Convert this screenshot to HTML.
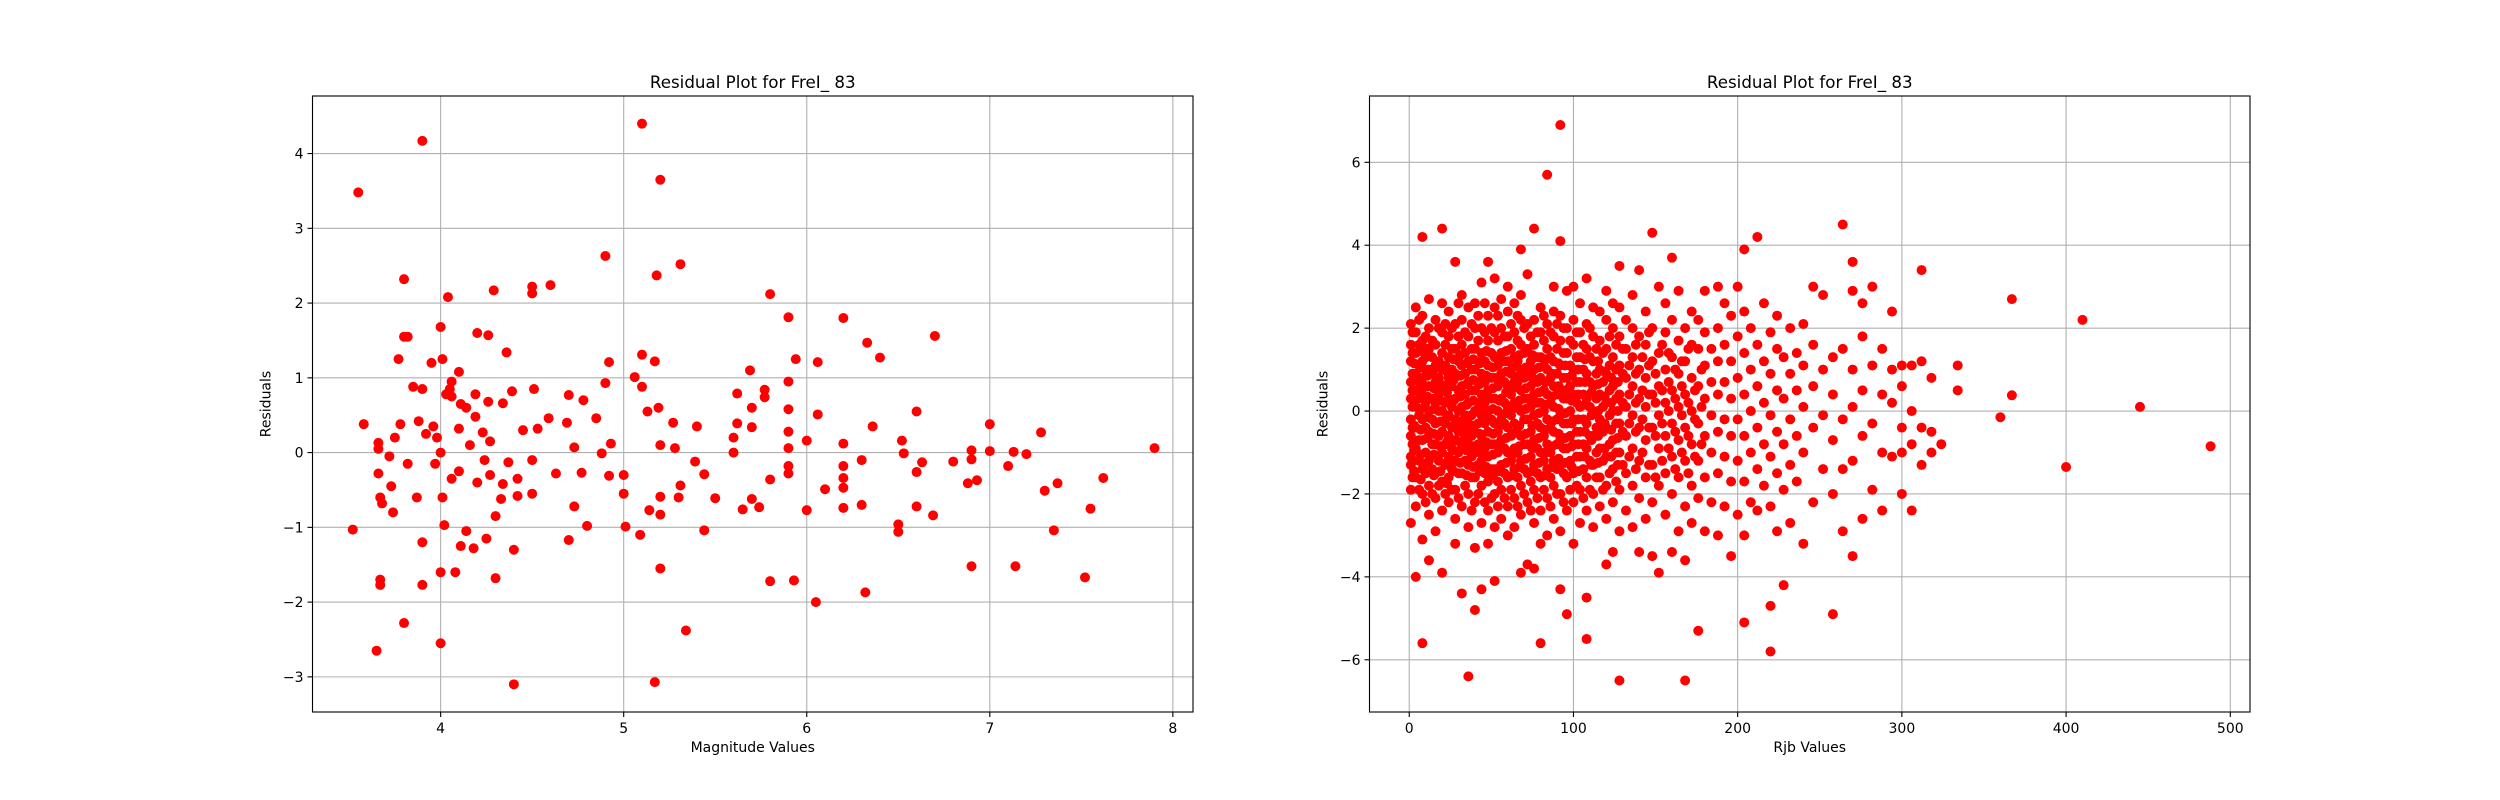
<!DOCTYPE html>
<html><head><meta charset="utf-8"><style>
html,body{margin:0;padding:0;background:#fff;}
svg{display:block;font-family:"DejaVu Sans","Liberation Sans",sans-serif;}
</style></head><body>
<svg id="fig" width="2500" height="800" viewBox="0 0 2500 800" xmlns="http://www.w3.org/2000/svg"></svg>
<script>
// ---- Left chart data: [magnitude, residual]
const leftPoints = [[3.55,3.48],[3.52,-1.03],[3.58,0.38],[3.9,4.17],[3.65,-2.65],[3.67,-1.7],[3.67,-1.77],[3.66,0.13],[3.66,0.05],[3.66,-0.28],[3.67,-0.6],[3.68,-0.68],[3.72,-0.05],[3.73,-0.45],[3.74,-0.8],[3.75,0.2],[3.77,1.25],[3.78,0.38],[3.8,1.55],[3.82,1.55],[3.8,2.32],[3.8,-2.28],[3.82,-0.15],[3.85,0.88],[3.87,-0.6],[3.88,0.42],[3.9,0.85],[3.9,-1.77],[3.9,-1.2],[3.92,0.25],[3.95,1.2],[3.96,0.35],[3.97,-0.15],[3.98,0.2],[4.0,1.68],[4.01,1.25],[4.01,-0.6],[4.0,-2.55],[4.0,-1.6],[4.0,0.0],[4.02,-0.97],[4.03,0.78],[4.04,2.08],[4.05,0.85],[4.06,-0.35],[4.06,0.75],[4.08,-1.6],[4.1,1.08],[4.06,0.95],[4.1,-0.25],[4.1,0.32],[4.11,0.65],[4.11,-1.25],[4.14,-1.05],[4.14,0.6],[4.19,0.78],[4.19,0.48],[4.16,0.1],[4.18,-1.28],[4.2,-0.4],[4.2,1.6],[4.23,0.27],[4.24,-0.1],[4.26,1.57],[4.3,-0.85],[4.26,0.68],[4.25,-1.15],[4.29,2.17],[4.27,-0.3],[4.27,0.15],[4.3,-1.68],[4.33,-0.62],[4.34,-0.42],[4.34,0.66],[4.36,1.34],[4.37,-0.13],[4.39,0.82],[4.4,-3.1],[4.4,-1.3],[4.42,-0.35],[4.42,-0.58],[4.45,0.3],[4.5,-0.55],[4.5,2.22],[4.5,2.13],[4.51,0.85],[4.5,-0.1],[4.53,0.32],[4.6,2.24],[4.59,0.46],[4.63,-0.28],[4.7,0.77],[4.69,0.4],[4.7,-1.17],[4.73,-0.72],[4.73,0.07],[4.77,-0.27],[4.8,-0.98],[4.78,0.7],[4.85,0.46],[4.9,2.63],[4.92,-0.31],[4.9,0.93],[4.92,1.21],[4.93,0.12],[4.88,-0.01],[5.0,-0.55],[5.0,-0.3],[5.01,-0.99],[5.06,1.01],[5.09,-1.1],[5.1,1.31],[5.1,4.4],[5.1,0.88],[5.13,0.55],[5.14,-0.77],[5.17,-3.07],[5.17,1.22],[5.18,2.37],[5.19,0.6],[5.2,3.65],[5.2,0.1],[5.2,-1.55],[5.2,-0.83],[5.2,-0.59],[5.27,0.4],[5.3,-0.6],[5.28,0.06],[5.31,2.52],[5.31,-0.44],[5.34,-2.38],[5.39,-0.12],[5.4,0.35],[5.44,-1.04],[5.44,-0.29],[5.5,-0.61],[5.6,0.0],[5.6,0.2],[5.62,0.39],[5.62,0.79],[5.7,-0.62],[5.69,1.1],[5.7,0.6],[5.7,0.34],[5.74,-0.73],[5.65,-0.76],[5.77,0.84],[5.77,0.74],[5.8,2.12],[5.8,-1.72],[5.8,-0.36],[5.9,0.28],[5.9,1.81],[5.9,0.95],[5.9,0.58],[5.9,0.06],[5.9,-0.18],[5.93,-1.71],[5.94,1.25],[5.9,-0.28],[6.0,-0.77],[6.0,0.16],[6.05,-2.0],[6.06,1.21],[6.06,0.51],[6.1,-0.49],[6.2,1.8],[6.2,-0.18],[6.2,-0.34],[6.2,-0.74],[6.2,0.12],[6.2,-0.47],[6.3,-0.7],[6.3,-0.1],[6.33,1.47],[6.32,-1.87],[6.36,0.35],[6.4,1.27],[6.5,-1.06],[6.5,-0.96],[6.52,0.16],[6.53,-0.01],[6.6,0.55],[6.6,-0.26],[6.6,-0.72],[6.63,-0.13],[6.7,1.56],[6.69,-0.84],[6.8,-0.12],[6.9,0.03],[6.88,-0.41],[6.9,-1.52],[6.9,-0.09],[6.93,-0.37],[7.0,0.38],[7.0,0.02],[7.1,-0.18],[7.13,0.01],[7.14,-1.52],[7.2,-0.02],[7.28,0.27],[7.3,-0.51],[7.35,-1.04],[7.37,-0.41],[7.52,-1.67],[7.55,-0.75],[7.62,-0.34],[7.9,0.06]];
const leftXTicks = [4,5,6,7,8];
const leftYTicks = [-3,-2,-1,0,1,2,3,4];

// ---- Right chart data: columns of [rjb, [residuals...]]
const rightColumns = [
[1,[-2.7,-1.9,-1.3,-1.1,-0.6,-0.2,0.3,0.7,1.2,1.6,2.1]],[2,[-1.6,-0.8,-0.4,0.1,0.9,1.4,1.9,-1.2,0.5]],
[4,[-4.0,-2.3,-1.6,-0.9,-0.4,0.1,0.5,0.9,1.4,1.9,2.5]],[6,[-1.9,-1.2,-0.7,-0.1,0.3,0.7,1.1,1.6,2.2]],
[8,[-5.6,-3.1,-2.0,-1.4,-0.7,-0.2,0.4,0.8,1.2,1.7,2.3,4.2]],[10,[-2.2,-1.5,-1.0,-0.4,0.2,0.6,1.0,1.3,1.8]],
[12,[-3.6,-2.5,-1.8,-1.2,-0.5,0.0,0.6,1.0,1.5,2.0,2.7]],[14,[-2.0,-1.4,-0.8,-0.2,0.3,0.9,1.3,1.7]],
[16,[-2.9,-2.1,-1.5,-0.8,-0.3,0.2,0.7,1.1,1.6,2.2]],[18,[-1.8,-1.2,-0.6,0.0,0.4,0.8,1.2,2.0]],
[20,[-3.9,-2.4,-1.7,-1.0,-0.5,0.0,0.5,1.0,1.4,1.9,2.6,4.4]],[22,[-2.0,-1.3,-0.8,-0.3,0.2,0.6,1.1,1.6,2.1]],
[24,[-2.2,-1.6,-1.1,-0.6,-0.1,0.3,0.8,1.3,1.8,2.4]],[26,[-1.9,-1.4,-0.9,-0.4,0.1,0.6,1.0,1.5,2.0]],
[28,[-3.2,-2.6,-1.9,-1.2,-0.7,-0.2,0.3,0.9,1.5,2.1,3.6]],[30,[-2.1,-1.5,-1.0,-0.5,0.0,0.5,1.2,1.8,2.6]],
[32,[-4.4,-2.3,-1.5,-0.9,-0.4,0.1,0.6,1.1,1.6,2.2,2.8]],[34,[-1.8,-1.2,-0.6,-0.1,0.4,0.9,1.4,1.9]],
[36,[-6.4,-2.8,-2.0,-1.3,-0.8,-0.3,0.2,0.7,1.2,1.8,2.5]],[38,[-2.4,-1.6,-1.1,-0.6,-0.1,0.5,1.0,1.5,2.1]],
[40,[-4.8,-3.3,-2.2,-1.6,-1.0,-0.5,0.0,0.5,1.0,1.5,2.0,2.6]],[42,[-2.0,-1.3,-0.8,-0.3,0.2,0.7,1.2,1.7,2.3]],
[44,[-4.3,-2.7,-1.8,-1.2,-0.6,-0.1,0.4,0.9,1.4,2.0,3.1]],[46,[-2.2,-1.5,-0.9,-0.3,0.2,0.7,1.2,1.9,2.6]],
[48,[-3.2,-2.4,-1.7,-1.1,-0.5,0.0,0.5,1.1,1.7,2.3,3.6]],[50,[-2.1,-1.4,-0.8,-0.2,0.3,0.8,1.4,2.0]],
[52,[-4.1,-2.8,-2.0,-1.4,-0.8,-0.3,0.3,0.8,1.3,1.9,2.5,3.2]],[54,[-2.3,-1.7,-1.0,-0.5,0.0,0.6,1.1,1.7,2.3]],
[56,[-2.6,-1.9,-1.3,-0.7,-0.2,0.3,0.9,1.4,2.0,2.7]],[58,[-2.1,-1.5,-0.9,-0.3,0.2,0.7,1.2,1.8]],
[60,[-3.0,-2.3,-1.6,-1.0,-0.4,0.1,0.6,1.2,1.8,2.4,3.0]],[62,[-1.9,-1.2,-0.6,-0.1,0.4,0.9,1.5,2.1]],
[64,[-2.8,-2.1,-1.4,-0.9,-0.3,0.2,0.7,1.3,1.9,2.6]],[66,[-2.3,-1.6,-1.0,-0.4,0.1,0.7,1.2,1.7,2.3]],
[68,[-3.9,-2.5,-1.8,-1.2,-0.6,0.0,0.5,1.0,1.6,2.2,2.8,3.9]],[70,[-2.0,-1.4,-0.8,-0.2,0.3,0.8,1.4,2.0]],
[72,[-3.7,-2.2,-1.5,-0.8,-0.2,0.3,0.9,1.5,2.1,3.3]],[74,[-2.4,-1.7,-1.1,-0.5,0.1,0.6,1.2,1.8]],
[76,[-3.8,-2.7,-1.9,-1.3,-0.7,-0.1,0.4,1.0,1.6,2.2,4.4]],[78,[-2.1,-1.5,-0.9,-0.3,0.2,0.7,1.3,1.9]],
[80,[-5.6,-3.2,-2.4,-1.6,-1.0,-0.4,0.2,0.8,1.3,1.9,2.5]],[82,[-1.9,-1.2,-0.6,0.0,0.5,1.1,1.7,2.3]],
[84,[-3.0,-2.1,-1.4,-0.8,-0.2,0.4,1.0,1.5,2.1,5.7]],[86,[-2.3,-1.6,-1.0,-0.4,0.2,0.8,1.3,1.9]],
[88,[-2.6,-1.8,-1.2,-0.5,0.1,0.6,1.2,1.8,2.4,3.0]],[90,[-2.0,-1.4,-0.8,-0.2,0.4,0.9,1.5,2.1]],
[92,[-4.3,-2.9,-2.0,-1.3,-0.7,-0.1,0.5,1.1,1.7,2.3,6.9,4.1]],[94,[-2.2,-1.5,-0.9,-0.3,0.3,0.8,1.4,2.0]],
[96,[-4.9,-2.4,-1.6,-0.9,-0.3,0.3,0.8,1.4,2.0,2.9]],[98,[-1.9,-1.2,-0.6,0.0,0.6,1.1,1.7]],
[100,[-3.2,-2.2,-1.5,-0.8,-0.2,0.4,1.0,1.6,2.2,3.0]],[102,[-1.8,-1.1,-0.5,0.2,0.7,1.3,1.9]],
[104,[-2.7,-1.9,-1.1,-0.5,0.1,0.7,1.3,1.9,2.6]],[106,[-2.1,-1.4,-0.8,-0.2,0.4,1.0,1.6]],
[108,[-5.5,-4.5,-2.4,-1.6,-0.9,-0.3,0.3,0.9,1.5,2.1,3.2]],[110,[-1.9,-1.2,-0.6,0.1,0.7,1.3,2.0]],
[112,[-2.8,-2.0,-1.3,-0.6,0.0,0.6,1.2,1.8,2.5]],[114,[-1.6,-1.0,-0.4,0.3,0.9,1.5]],
[116,[-2.3,-1.6,-0.9,-0.2,0.4,1.0,1.7,2.4]],[118,[-1.9,-1.2,-0.5,0.1,0.7,1.4]],
[120,[-3.7,-2.6,-1.8,-1.1,-0.4,0.2,0.9,1.5,2.2,2.9]],[122,[-1.5,-0.8,-0.1,0.5,1.1,1.8]],
[124,[-3.4,-2.2,-1.4,-0.7,0.0,0.6,1.3,2.0,2.6]],[126,[-1.7,-1.0,-0.3,0.3,1.0,1.6]],
[128,[-6.5,-2.9,-1.9,-1.0,-0.3,0.4,1.1,1.8,2.5,3.5]],[130,[-1.3,-0.5,0.2,0.9,1.5]],
[132,[-2.4,-1.5,-0.6,0.1,0.8,1.5,2.2]],[134,[-1.1,-0.3,0.4,1.1]],
[136,[-2.8,-1.8,-0.9,-0.1,0.6,1.3,2.0,2.8]],[138,[-1.4,-0.5,0.2,0.9,1.6]],
[140,[-3.4,-2.1,-1.2,-0.4,0.3,1.0,1.8,3.4]],[142,[-1.0,-0.2,0.5,1.3]],
[144,[-2.6,-1.6,-0.7,0.1,0.8,1.6,2.4]],[146,[-1.3,-0.4,0.4,1.1,1.9]],
[148,[-3.5,-2.2,-1.3,-0.4,0.4,1.2,2.0,4.3]],[150,[-1.6,-0.6,0.2,0.9]],
[152,[-3.9,-1.8,-0.9,-0.1,0.6,1.4,3.0]],[154,[-1.2,-0.3,0.5,1.6]],
[156,[-2.5,-1.5,-0.6,0.2,1.0,1.9,2.6]],[158,[-0.9,0.0,0.7,1.4]],
[160,[-3.4,-2.0,-1.1,-0.3,0.5,1.3,2.2,3.7]],[162,[-1.4,-0.5,0.3,1.0]],
[164,[-2.9,-1.6,-0.7,0.1,0.9,1.7,2.9]],[166,[-1.0,-0.1,0.6,1.2]],
[168,[-6.5,-3.6,-2.3,-1.2,-0.4,0.4,1.2,2.0]],[170,[-1.5,-0.6,0.2,1.5]],
[172,[-2.7,-1.8,-0.8,0.0,0.8,1.6,2.4]],[174,[-1.1,-0.2,0.5]],
[176,[-5.3,-2.1,-1.2,-0.3,0.6,1.5,2.2]],[178,[-0.8,0.1,1.0]],
[180,[-2.9,-1.6,-0.6,0.3,1.1,1.9,2.9]],[184,[-2.2,-1.0,-0.1,0.7,1.5]],
[188,[-3.0,-1.5,-0.5,0.4,1.2,2.0,3.0]],[192,[-2.3,-1.1,-0.2,0.7,1.6,2.6]],
[196,[-3.5,-1.7,-0.6,0.3,1.2,2.3]],[200,[-2.5,-1.2,-0.2,0.8,1.8,3.0]],
[204,[-5.1,-3.0,-1.7,-0.6,0.4,1.4,2.4,3.9]],[208,[-2.2,-1.0,0.0,1.0,2.0]],
[212,[-2.4,-1.4,-0.4,0.6,1.6,4.2]],[216,[-1.8,-0.8,0.2,1.2,2.6]],
[220,[-5.8,-4.7,-2.3,-1.1,-0.1,0.9,1.9]],[224,[-2.9,-1.5,-0.5,0.5,1.5,2.3]],
[228,[-4.2,-1.9,-0.8,0.3,1.3]],[232,[-2.7,-1.3,-0.2,0.9,2.0]],
[236,[-1.7,-0.6,0.5,1.4]],[240,[-3.2,-1.0,0.1,1.1,2.1]],
[246,[-2.2,-0.4,0.6,1.6,3.0]],[252,[-1.4,-0.1,1.0,2.8]],
[258,[-4.9,-2.0,-0.7,0.4,1.3]],[264,[-2.9,-1.4,-0.2,1.5,4.5]],
[270,[-3.5,-1.2,0.1,1.0,2.9,3.6]],[276,[-2.6,-0.6,0.5,1.8,2.6]],
[282,[-1.9,-0.3,1.1,3.0]],[288,[-2.4,-1.0,0.4,1.5]],
[294,[-1.1,0.2,1.0,2.4]],[300,[-2.0,-0.4,0.6,1.1,-1.0]],
[306,[-2.4,-0.8,0.0,1.1]],[312,[-1.3,-0.4,1.2,3.4]],
[318,[-0.5,-1.0,0.8]],[324,[-0.8]],[334,[1.1,0.5]],[360,[-0.15]],
[367,[0.38,2.7]],[400,[-1.35]],[410,[2.2]],[445,[0.1]],[488,[-0.85]]
];
// dense core fill (extra observations in the solid region)
const rightCoreColumns = [
[3,[-1.45,-0.95,-0.35,0.25,0.75,1.15]],[7,[-1.65,-1.05,-0.45,0.05,0.55,1.05,1.45]],
[11,[-1.25,-0.65,-0.15,0.35,0.85,1.5]],[15,[-1.55,-1.05,-0.55,0.05,0.55,1.0]],
[19,[-1.45,-0.85,-0.25,0.25,0.65,1.05]],[23,[-1.75,-1.25,-0.75,-0.15,0.45,0.95]],
[27,[-1.45,-0.95,-0.35,0.25,0.75,1.25]],[31,[-1.25,-0.75,-0.25,0.35,0.85,1.35]],
[35,[-1.55,-0.95,-0.45,0.15,0.65,1.15]],[39,[-1.35,-0.85,-0.35,0.25,0.75,1.25]],
[43,[-1.45,-1.0,-0.55,0.05,0.65,1.15]],[47,[-1.35,-0.75,-0.15,0.35,0.85,1.45]],
[51,[-1.55,-1.05,-0.55,0.05,0.55,1.05]],[55,[-1.45,-0.85,-0.35,0.25,0.75,1.25]],
[59,[-1.25,-0.65,-0.05,0.45,0.95,1.45]],[63,[-1.55,-1.05,-0.55,0.05,0.55,1.05]],
[67,[-1.35,-0.85,-0.35,0.25,0.85,1.35]],[71,[-1.15,-0.55,0.05,0.55,1.05]],
[75,[-1.45,-0.9,-0.35,0.25,0.8,1.35]],[79,[-1.25,-0.65,-0.05,0.45,1.05]],
[83,[-1.55,-1.0,-0.45,0.15,0.7,1.25]],[87,[-1.35,-0.85,-0.25,0.35,0.9]],
[91,[-1.15,-0.55,0.05,0.6,1.15]],[95,[-1.25,-0.65,-0.05,0.5,1.1]],
[99,[-1.35,-0.85,-0.3,0.25,0.85]],[103,[-1.45,-0.8,-0.2,0.4,1.0]],
[107,[-1.1,-0.5,0.15,0.7,1.25]],[111,[-1.3,-0.7,-0.1,0.45]],
[115,[-1.25,-0.6,0.0,0.65,1.2]],[119,[-0.9,-0.3,0.35,0.95]],
[123,[-1.1,-0.45,0.2,0.8]],[127,[-1.3,-0.65,0.0,0.7]]
];
const rightXTicks = [0,100,200,300,400,500];
const rightYTicks = [-6,-4,-2,0,2,4,6];

const NS = 'http://www.w3.org/2000/svg';
const svg = document.getElementById('fig');
function mk(tag, attrs, parent){const e=document.createElementNS(NS,tag);for(const k in attrs)e.setAttribute(k,attrs[k]);(parent||svg).appendChild(e);return e;}

function drawPanel(cfg){
  const {x0,x1,y0,y1,xmin,xmax,ymin,ymax,xticks,yticks,pts,title,xlabel,ylabel,name}=cfg;
  const sx=v=>x0+(v-xmin)/(xmax-xmin)*(x1-x0);
  const sy=v=>y1-(v-ymin)/(ymax-ymin)*(y1-y0);
  const g=mk('g',{});
  
  
  xticks.forEach(t=>{
    const X=sx(t);
    const gl=mk('line',{x1:X,x2:X,y1:y0,y2:y1,stroke:'#b0b0b0','stroke-width':1.1},g);
    
    
    mk('line',{x1:X,x2:X,y1:y1,y2:y1+5,stroke:'#000','stroke-width':1.1},g);
    const tx=mk('text',{x:X,y:y1+21,'font-size':14,'text-anchor':'middle',fill:'#000'},g);
    tx.textContent=String(t);
    
    
  });
  yticks.forEach(t=>{
    const Y=sy(t);
    const gl=mk('line',{x1:x0,x2:x1,y1:Y,y2:Y,stroke:'#b0b0b0','stroke-width':1.1},g);
    
    
    mk('line',{x1:x0-5,x2:x0,y1:Y,y2:Y,stroke:'#000','stroke-width':1.1},g);
    const tx=mk('text',{x:x0-9,y:Y+5,'font-size':14,'text-anchor':'end',fill:'#000'},g);
    tx.textContent=(t<0?'\u2212'+Math.abs(t):String(t));
    
    
  });
  pts.forEach(p=>{
    const c=mk('circle',{cx:sx(p[0]),cy:sy(p[1]),r:5,fill:'#ff0000'},g);
    
    
  });
  const fr=mk('rect',{x:x0,y:y0,width:x1-x0,height:y1-y0,fill:'none',stroke:'#000','stroke-width':1.1},g);
  
  
  const ti=mk('text',{x:(x0+x1)/2,y:y0-8,'font-size':16.7,'text-anchor':'middle',fill:'#000'},g);
  ti.textContent=title;
  
  
  const xl=mk('text',{x:(x0+x1)/2,y:y1+40,'font-size':14,'text-anchor':'middle',fill:'#000'},g);
  xl.textContent=xlabel;
  
  
  const cy=(y0+y1)/2, cx=x0-42;
  const yl=mk('text',{x:cx,y:cy,'font-size':14,'text-anchor':'middle',fill:'#000',transform:`rotate(-90 ${cx} ${cy})`},g);
  yl.textContent=ylabel;
  
  
}

drawPanel({x0:312.5,x1:1193,y0:96,y1:712,xmin:3.30,xmax:8.11,ymin:-3.47,ymax:4.77,
  xticks:leftXTicks,yticks:leftYTicks,pts:leftPoints,title:'Residual Plot for FreI_ 83',
  xlabel:'Magnitude Values',ylabel:'Residuals',name:'magnitude-residual-plot'});

const rightPoints=[];
rightColumns.forEach(c=>c[1].forEach(v=>rightPoints.push([c[0],v])));
rightCoreColumns.forEach(c=>c[1].forEach(v=>rightPoints.push([c[0],v])));
drawPanel({x0:1369.5,x1:2250,y0:96,y1:712,xmin:-24.2,xmax:512,ymin:-7.26,ymax:7.6,
  xticks:rightXTicks,yticks:rightYTicks,pts:rightPoints,title:'Residual Plot for FreI_ 83',
  xlabel:'Rjb Values',ylabel:'Residuals',name:'rjb-residual-plot'});
</script>
</body></html>
